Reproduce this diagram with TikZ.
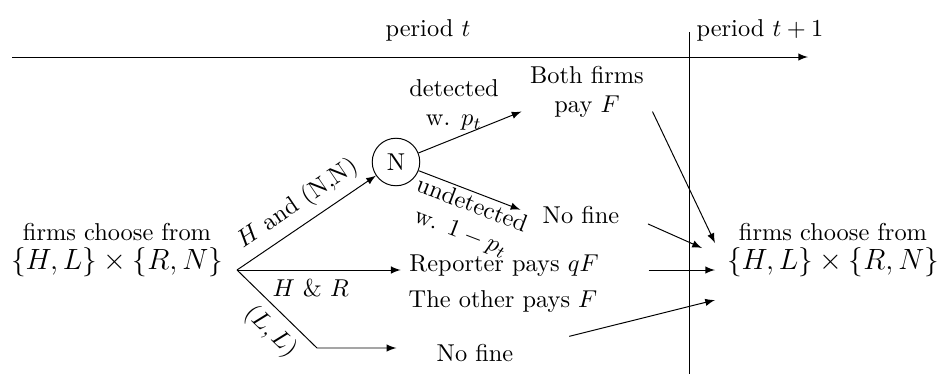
\documentclass[tikz,border=0pt]{standalone}
\begin{document}
\begin{tikzpicture}[x=0.41pt,y=-0.41pt,>=latex]
  \useasboundingbox (0,0) rectangle (943,374);
  \coordinate (axl) at (12,57);
  \coordinate (axr) at (808,57);
  \draw[->] (axl) -- (axr);
  \node (pt) at (428,30) {period $t$};
  \node (ptt) at (760,30) {period $t+1$};
  \coordinate (vtop) at (689,32);
  \coordinate (vbot) at (689,374);
  \draw (vtop) -- (vbot);
  \node[align=center] (start) at (117,250) {firms choose from\\ \large $\{H,L\}\times\{R,N\}$};
  \node[align=center] (next) at (833,250) {firms choose from\\ \large $\{H,L\}\times\{R,N\}$};
  \coordinate (split) at (237,270);
  \coordinate (knee) at (317,348);
  \node[circle,draw] (nat) at (396,162) {N};
  \node[align=center] (both) at (587,92) {Both firms\\ pay $F$};
  \node (nofinea) at (581,215) {No fine};
  \node (reporter) at (504,266) {Reporter pays $qF$};
  \node (other) at (503,302) {The other pays $F$};
  \node (nofineb) at (475,353) {No fine};
  \node[align=center] (det) at (454,105) {detected\\ w. $p_t$};
  \coordinate (inA) at (715,243);
  \coordinate (inB) at (702,248);
  \coordinate (inC) at (715,270);
  \coordinate (inD) at (715,300);
  \draw[->] (split) -- node[sloped,above,pos=0.52]{$H$ and (N,N)} (nat);
  \draw[->] (split) -- node[below,pos=0.45]{$H$ \& $R$} (split -| reporter.west);
  \draw[->,shorten >=13pt] (split) -- node[sloped,below,pos=0.6]{$(L,L)$} (knee) -- (knee -| nofineb.west);
  \draw[->] (nat) -- ([yshift=-8pt]both.west);
  \draw[->,shorten >=6pt] (nat) -- node[sloped,below,align=center,inner sep=1pt]{undetected\\ w. $1-p_t$} (nofinea.west);
  \draw[->] ([yshift=-8pt]both.east) -- (inA);
  \draw[->,shorten <=9pt] (nofinea.east) -- (inB);
  \draw[->,shorten <=17pt] (reporter.east |- inC) -- (inC);
  \draw[->,shorten <=20pt] ([yshift=2pt]nofineb.east) -- (inD);
\end{tikzpicture}
\end{document}
